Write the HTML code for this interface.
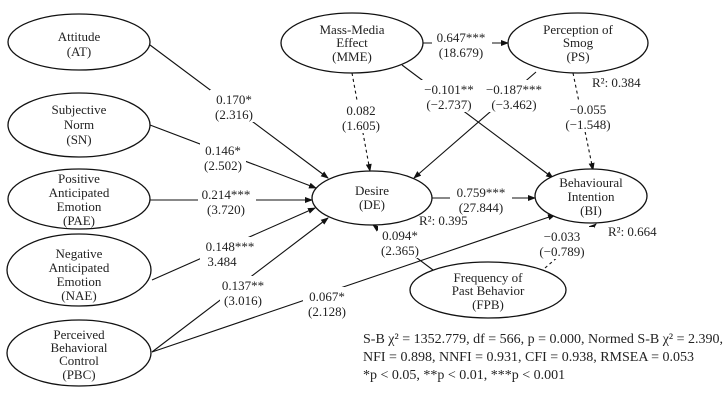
<!DOCTYPE html>
<html><head><meta charset="utf-8"><style>
html,body{margin:0;padding:0;background:#fff;width:725px;height:400px;overflow:hidden}
svg text{font-family:"Liberation Serif",serif;font-size:13px;fill:#222}
</style></head><body>
<svg width="725" height="400" viewBox="0 0 725 400" xmlns="http://www.w3.org/2000/svg">
<defs><marker id="a" markerWidth="8" markerHeight="6" refX="7" refY="3" orient="auto" markerUnits="userSpaceOnUse"><path d="M0,0 L8,3 L0,6z" fill="#111"/></marker></defs>
<g stroke="#111" stroke-width="1.1" fill="none">
<line x1="150" y1="45" x2="328" y2="178" marker-end="url(#a)"/>
<line x1="150" y1="125" x2="316" y2="188" marker-end="url(#a)"/>
<line x1="150" y1="200" x2="312" y2="200" marker-end="url(#a)"/>
<line x1="152" y1="280" x2="315" y2="208" marker-end="url(#a)"/>
<line x1="152" y1="352" x2="328" y2="218" marker-end="url(#a)"/>
<line x1="152" y1="352" x2="555" y2="215" marker-end="url(#a)"/>
<line x1="423" y1="43" x2="508" y2="43" marker-end="url(#a)"/>
<line x1="352" y1="73" x2="370" y2="171" stroke-dasharray="3,3" marker-end="url(#a)"/>
<line x1="402" y1="65" x2="553" y2="178" marker-end="url(#a)"/>
<line x1="536" y1="72" x2="414" y2="178" marker-end="url(#a)"/>
<line x1="573" y1="73" x2="593" y2="170" stroke-dasharray="3,3" marker-end="url(#a)"/>
<line x1="432" y1="198" x2="535" y2="198" marker-end="url(#a)"/>
<line x1="433" y1="270" x2="373" y2="225" marker-end="url(#a)"/>
<line x1="545" y1="268" x2="596" y2="224" stroke-dasharray="3,3" marker-end="url(#a)"/>
</g>
<g fill="#fff" stroke="none">
<rect x="210" y="90" width="48" height="32"/>
<rect x="200" y="141" width="46" height="32"/>
<rect x="198" y="185" width="58" height="32"/>
<rect x="200" y="237" width="60" height="32"/>
<rect x="220" y="276" width="48" height="32"/>
<rect x="303" y="287" width="48" height="32"/>
<rect x="432" y="28" width="60" height="32"/>
<rect x="342" y="101" width="38" height="32"/>
<rect x="420" y="80" width="58" height="32"/>
<rect x="482" y="80" width="64" height="32"/>
<rect x="562" y="100" width="52" height="32"/>
<rect x="450" y="183" width="62" height="32"/>
<rect x="378" y="226" width="44" height="32"/>
<rect x="530" y="227" width="64" height="32"/>
</g>
<g text-anchor="middle">
<text x="234" y="104">0.170*</text><text x="234" y="119">(2.316)</text>
<text x="223" y="155">0.146*</text><text x="223" y="170">(2.502)</text>
<text x="226" y="199">0.214***</text><text x="226" y="214">(3.720)</text>
<text x="230" y="251">0.148***</text><text x="222" y="266">3.484</text>
<text x="243" y="290">0.137**</text><text x="243" y="305">(3.016)</text>
<text x="327" y="301">0.067*</text><text x="327" y="316">(2.128)</text>
<text x="461" y="42">0.647***</text><text x="461" y="57">(18.679)</text>
<text x="361" y="115">0.082</text><text x="361" y="130">(1.605)</text>
<text x="449" y="94">−0.101**</text><text x="449" y="109">(−2.737)</text>
<text x="514" y="94">−0.187***</text><text x="514" y="109">(−3.462)</text>
<text x="588" y="114">−0.055</text><text x="588" y="129">(−1.548)</text>
<text x="481" y="197">0.759***</text><text x="481" y="212">(27.844)</text>
<text x="400" y="240">0.094*</text><text x="400" y="255">(2.365)</text>
<text x="562" y="241">−0.033</text><text x="562" y="256">(−0.789)</text>
</g>
<text x="419" y="225">R²: 0.395</text>
<text x="592" y="87">R²: 0.384</text>
<text x="608" y="236">R²: 0.664</text>
<g fill="#fff" stroke="#111" stroke-width="1.3">
<ellipse cx="79" cy="42" rx="71" ry="28"/>
<ellipse cx="79" cy="125" rx="71" ry="32"/>
<ellipse cx="79" cy="199" rx="71" ry="30"/>
<ellipse cx="79" cy="270" rx="72" ry="36"/>
<ellipse cx="79" cy="353" rx="72" ry="33"/>
<ellipse cx="352" cy="43" rx="71" ry="30"/>
<ellipse cx="578" cy="43" rx="70" ry="30"/>
<ellipse cx="372" cy="198" rx="60" ry="27"/>
<ellipse cx="591" cy="196" rx="56" ry="27"/>
<ellipse cx="488" cy="290" rx="78" ry="28"/>
</g>
<g text-anchor="middle">
<text x="79" y="41">Attitude</text><text x="79" y="56">(AT)</text>
<text x="79" y="114">Subjective</text><text x="79" y="129">Norm</text><text x="79" y="144">(SN)</text>
<text x="79" y="183">Positive</text><text x="79" y="197">Anticipated</text><text x="79" y="211">Emotion</text><text x="79" y="225">(PAE)</text>
<text x="79" y="258">Negative</text><text x="79" y="272">Anticipated</text><text x="79" y="286">Emotion</text><text x="79" y="300">(NAE)</text>
<text x="79" y="339">Perceived</text><text x="79" y="352">Behavioral</text><text x="79" y="365">Control</text><text x="79" y="379">(PBC)</text>
<text x="352" y="34">Mass-Media</text><text x="352" y="47">Effect</text><text x="352" y="61">(MME)</text>
<text x="578" y="34">Perception of</text><text x="578" y="47">Smog</text><text x="578" y="61">(PS)</text>
<text x="372" y="195">Desire</text><text x="372" y="209">(DE)</text>
<text x="591" y="187">Behavioural</text><text x="591" y="201">Intention</text><text x="591" y="215">(BI)</text>
<text x="488" y="282">Frequency of</text><text x="488" y="295">Past Behavior</text><text x="488" y="309">(FPB)</text>
</g>
<g style="font-size:14px">
<text x="363" y="343" style="font-size:14px">S-B χ² = 1352.779, df = 566, p = 0.000, Normed S-B χ² = 2.390,</text>
<text x="363" y="361" style="font-size:14px">NFI = 0.898, NNFI = 0.931, CFI = 0.938, RMSEA = 0.053</text>
<text x="363" y="379" style="font-size:14px">*p &lt; 0.05, **p &lt; 0.01, ***p &lt; 0.001</text>
</g>
</svg>
</body></html>
